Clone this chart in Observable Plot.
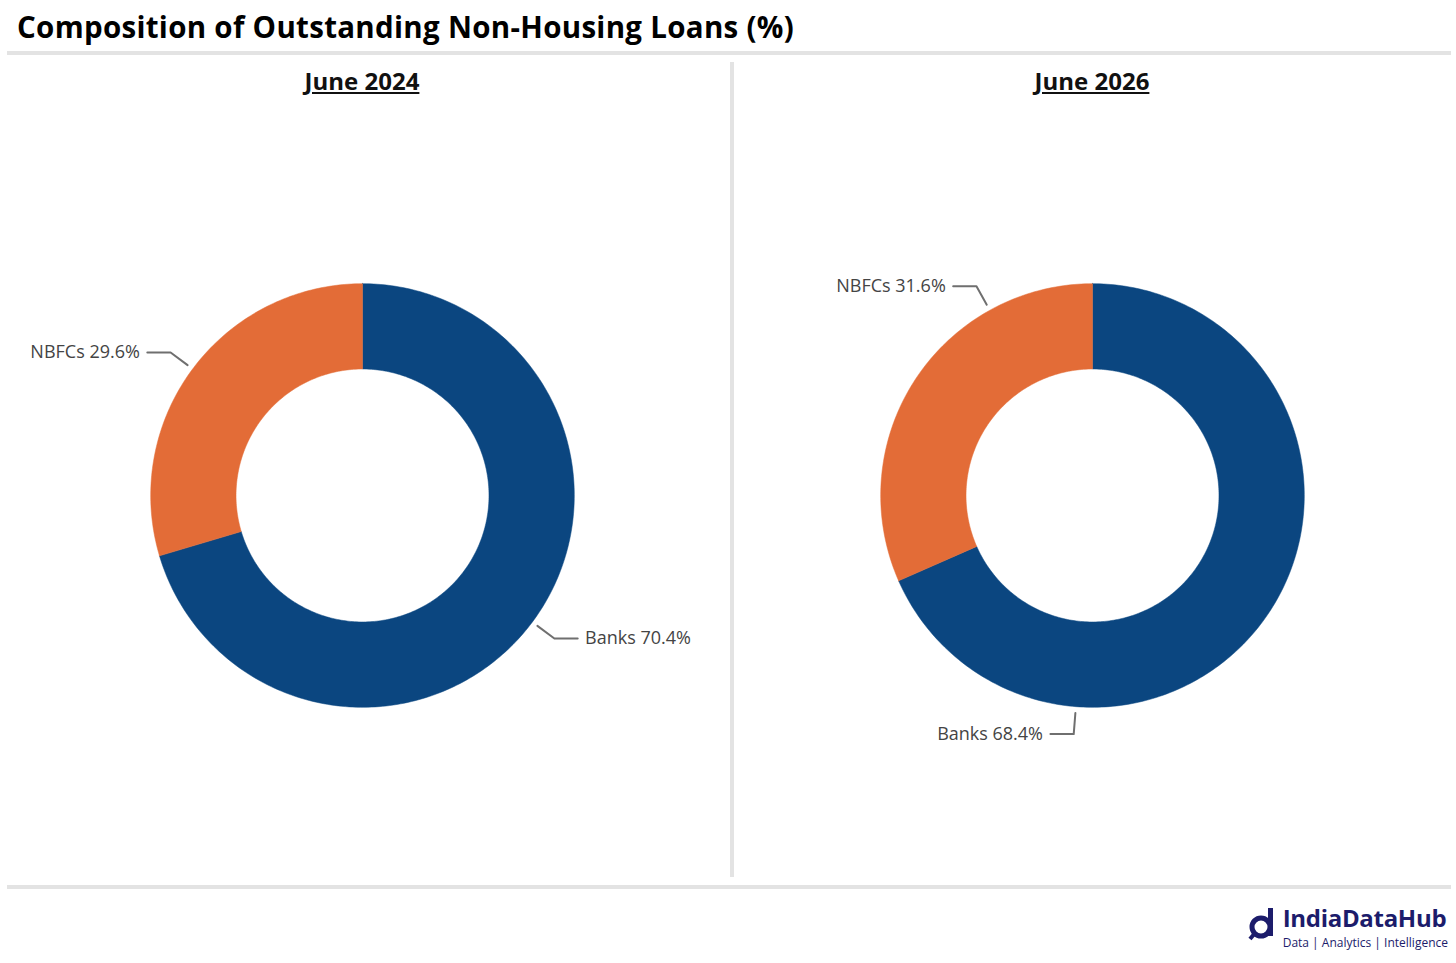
<!DOCTYPE html>
<html><head><meta charset="utf-8">
<script src="https://cdn.jsdelivr.net/npm/d3@7"></script>
<script src="https://cdn.jsdelivr.net/npm/@observablehq/plot@0.6"></script>
<style>
body{margin:0;background:#fff;font-family:"Open Sans","Noto Sans",sans-serif;width:1456px;height:963px;position:relative;overflow:hidden}
#title{position:absolute;left:17px;top:6px;font-size:29.5px;font-weight:700;color:#000;letter-spacing:0.3px}
.hr{position:absolute;left:7px;width:1444px;height:4px;background:#e3e3e3}
#vr{position:absolute;left:730px;top:62px;width:4px;height:815px;background:#e3e3e3}
.sub{position:absolute;top:64px;width:720px;text-align:center;font-size:24px;font-weight:700;text-decoration:underline;color:#111}
.panel{position:absolute;top:105px}
#logo{position:absolute;right:8px;top:903px;color:#1c1c6b}
</style></head><body>
<div id="title">Composition of Outstanding Non-Housing Loans (%)</div>
<div class="hr" style="top:51px"></div>
<div id="vr"></div>
<div class="hr" style="top:885px"></div>
<div class="sub" style="left:2px">June 2024</div>
<div class="sub" style="left:732px">June 2026</div>
<div class="panel" id="p0" style="left:2px"></div>
<div class="panel" id="p1" style="left:732px"></div>
<div id="logo">
<svg width="34" height="40" style="position:absolute;left:-36px;top:2px">
<circle cx="14" cy="22" r="9" fill="none" stroke="#1c1c6b" stroke-width="5"/>
<rect x="21" y="3" width="5" height="28" fill="#1c1c6b"/>
<line x1="8" y1="28" x2="3" y2="34" stroke="#1c1c6b" stroke-width="4"/>
</svg>
<div style="font-size:24px;font-weight:700;line-height:30px;letter-spacing:-0.3px">IndiaDataHub</div>
<div style="font-size:12px;line-height:16px;margin-top:2px">Data | Analytics | Intelligence</div>
</div>
<script>
const categories = ["Banks","NBFCs"];
const colors = ["#0b4680","#e36c37"];
const june2024 = [70.4, 29.6];
const june2026 = [68.4, 31.6];
// label leader angles (degrees clockwise from top), as placed in the reference
const labelAngles2024 = [126.7, 306.7];
const labelAngles2026 = [184.5, 331];

const W = 720, H = 780, K = 211.8;
const R0 = 126/211, R1 = 1;
function pt(a, r){ const t = a*Math.PI/180; return [r*Math.sin(t), r*Math.cos(t)]; }

function donut(el, values, angles){
  const total = d3.sum(values);
  const polys = [];
  let start = 0;
  values.forEach((v,i)=>{
    const end = start + v/total*360;
    const n = Math.max(4, Math.ceil((end-start)/1));
    const ring = [];
    for(let k=0;k<=n;k++) ring.push(pt(start+(end-start)*k/n, R1));
    for(let k=n;k>=0;k--) ring.push(pt(start+(end-start)*k/n, R0));
    ring.push(ring[0]);
    ring.forEach(([x,y],j)=>polys.push({cat:categories[i], i, x, y, j}));
    start = end;
  });
  const leaders = [], labels = [];
  angles.forEach((a,i)=>{
    const p1 = pt(a,1.03), p2 = pt(a,1.13);
    const left = p2[0] < 0;
    const p3 = [p2[0] + (left?-0.11:0.11), p2[1]];
    [p1,p2,p3].forEach(([x,y],j)=>leaders.push({i,x,y,j}));
    labels.push({x:p3[0]+(left?-0.035:0.035), y:p3[1], left,
      text:`${categories[i]} ${values[i].toFixed(1)}%`});
  });
  const xd = W/2/K, yd = H/2/K;
  const chart = Plot.plot({
    width: W, height: H, margin: 0,
    x: {domain:[-xd,xd], axis:null},
    y: {domain:[-yd,yd], axis:null},
    style: {fontFamily:"'Open Sans','Noto Sans',sans-serif", background:"transparent"},
    marks: [
      Plot.line(polys, {x:"x", y:"y", z:"cat", fill:d=>colors[d.i], stroke:d=>colors[d.i], strokeWidth:0.5, curve:"linear-closed"}),
      Plot.line(leaders, {x:"x", y:"y", z:"i", stroke:"#6f6f6f", strokeWidth:2}),
      Plot.text(labels.filter(d=>d.left), {x:"x", y:"y", text:"text", textAnchor:"end", fontSize:18, fill:"#444"}),
      Plot.text(labels.filter(d=>!d.left), {x:"x", y:"y", text:"text", textAnchor:"start", fontSize:18, fill:"#444"})
    ]
  });
  document.getElementById(el).append(chart);
}
donut("p0", june2024, labelAngles2024);
donut("p1", june2026, labelAngles2026);
</script>
</body></html>
